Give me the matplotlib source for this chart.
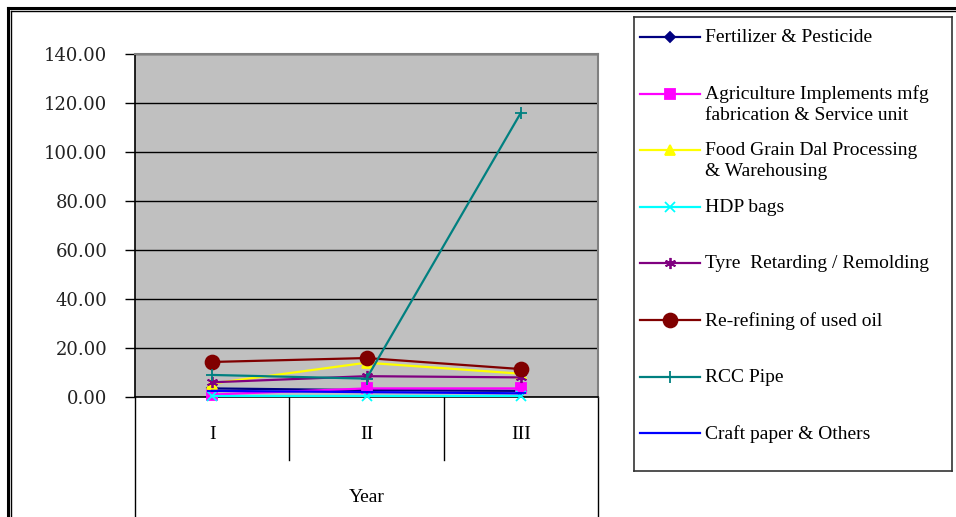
import matplotlib
matplotlib.use("Agg")
import matplotlib.pyplot as plt
from matplotlib.lines import Line2D

# Category labels and series values
years = ["I", "II", "III"]
series_names = [
    "Fertilizer & Pesticide",
    "Agriculture Implements mfg\nfabrication & Service unit",
    "Food Grain Dal Processing\n& Warehousing",
    "HDP bags",
    "Tyre  Retarding / Remolding",
    "Re-refining of used oil",
    "RCC Pipe",
    "Craft paper & Others",
]
fertilizer = [3.5, 2.8, 2.5]
agri_implements = [1.0, 3.5, 3.5]
food_grain = [5.5, 14.0, 9.5]
hdp_bags = [0.5, 0.5, 0.5]
tyre = [6.0, 8.5, 8.0]
re_refining = [14.3, 15.9, 11.4]
rcc_pipe = [9.0, 7.5, 116.0]
craft_paper = [2.5, 2.0, 1.5]
all_values = [fertilizer, agri_implements, food_grain, hdp_bags,
              tyre, re_refining, rcc_pipe, craft_paper]
y_ticks = [0, 20, 40, 60, 80, 100, 120, 140]

# Styling per series
colors = ["#000080", "#FF00FF", "#FFFF00", "#00FFFF",
          "#800080", "#800000", "#008080", "#0000FF"]
markers = ["D", "s", "^", "x", (6, 2, 0), "o", "+", "_"]
msizes = [5, 6.5, 7, 7, 8, 10, 9, 7]

W, H = 956, 517
fig = plt.figure(figsize=(W / 100, H / 100), dpi=100)
fig.patch.set_facecolor("white")

serif = ["Liberation Serif", "DejaVu Serif"]
tick_font = ["DejaVu Serif"]

# Main plotting area
ax = fig.add_axes([135 / W, (H - 397) / H, (598 - 135) / W, (397 - 54) / H])
ax.set_facecolor("#C0C0C0")
x = list(range(len(years)))
for vals, c, m, ms in zip(all_values, colors, markers, msizes):
    ax.plot(x, vals, color=c, lw=1.6, marker=m, ms=ms, mec=c, mfc=c,
            mew=1.3, zorder=3, clip_on=False)

ax.set_xlim(-0.5, 2.5)
ax.set_ylim(0, 140)
ax.set_yticks(y_ticks)
ax.set_yticklabels([f"{v:.2f}" for v in y_ticks], family=tick_font,
                   fontsize=13, color="#222222")
ax.tick_params(axis="y", length=7, width=1, color="black", pad=13)
ax.yaxis.grid(True, color="black", lw=1)
ax.set_axisbelow(True)

ax.set_xticks(x)
ax.set_xticklabels(years, family=serif, fontsize=14)
ax.tick_params(axis="x", length=0, pad=21)
ax.set_xlabel("Year", family=serif, fontsize=14, labelpad=33)

for side in ("top", "right"):
    ax.spines[side].set_color("#808080")
    ax.spines[side].set_linewidth(1.5)
ax.spines["left"].set_color("black")
ax.spines["left"].set_linewidth(1.2)
ax.spines["bottom"].set_color("black")
ax.spines["bottom"].set_linewidth(1.2)

# Category table lines below the axis
trans = ax.get_xaxis_transform()
for xb, depth in [(-0.5, -120 / 343), (2.5, -120 / 343),
                  (0.5, -63 / 343), (1.5, -63 / 343)]:
    ax.plot([xb, xb], [0, depth], color="black", lw=1, transform=trans,
            clip_on=False, zorder=1)

# Legend panel
lax = fig.add_axes([634 / W, (H - 471) / H, (952 - 634) / W, (471 - 17) / H])
lax.set_xlim(0, 318)
lax.set_ylim(454, 0)
lax.set_xticks([])
lax.set_yticks([])
for s in lax.spines.values():
    s.set_color("#333333")
    s.set_linewidth(1.2)
for i, (name, c, m, ms) in enumerate(zip(series_names, colors, markers, msizes)):
    yy = 20 + 56.6 * i
    lax.add_line(Line2D([6, 66], [yy, yy], color=c, lw=1.6))
    lax.add_line(Line2D([36], [yy], color=c, marker=m, ms=ms, mec=c, mfc=c,
                        mew=1.3))
    lax.text(71, yy - 8, name, family=serif, fontsize=14, va="top",
             ha="left", linespacing=1.3)

# Outer double frame
frame = [((8 / W, 8 / W), (0, 1 - 8 / H), 2.2),
         ((11 / W, 11 / W), (0, 1 - 11 / H), 1.0),
         ((8 / W, 1), (1 - 8 / H, 1 - 8 / H), 2.2),
         ((11 / W, 1), (1 - 11 / H, 1 - 11 / H), 1.0)]
for xs, ys, lw in frame:
    fig.add_artist(Line2D(xs, ys, color="black", lw=lw,
                          transform=fig.transFigure))

fig.savefig("out.png", dpi=100)
